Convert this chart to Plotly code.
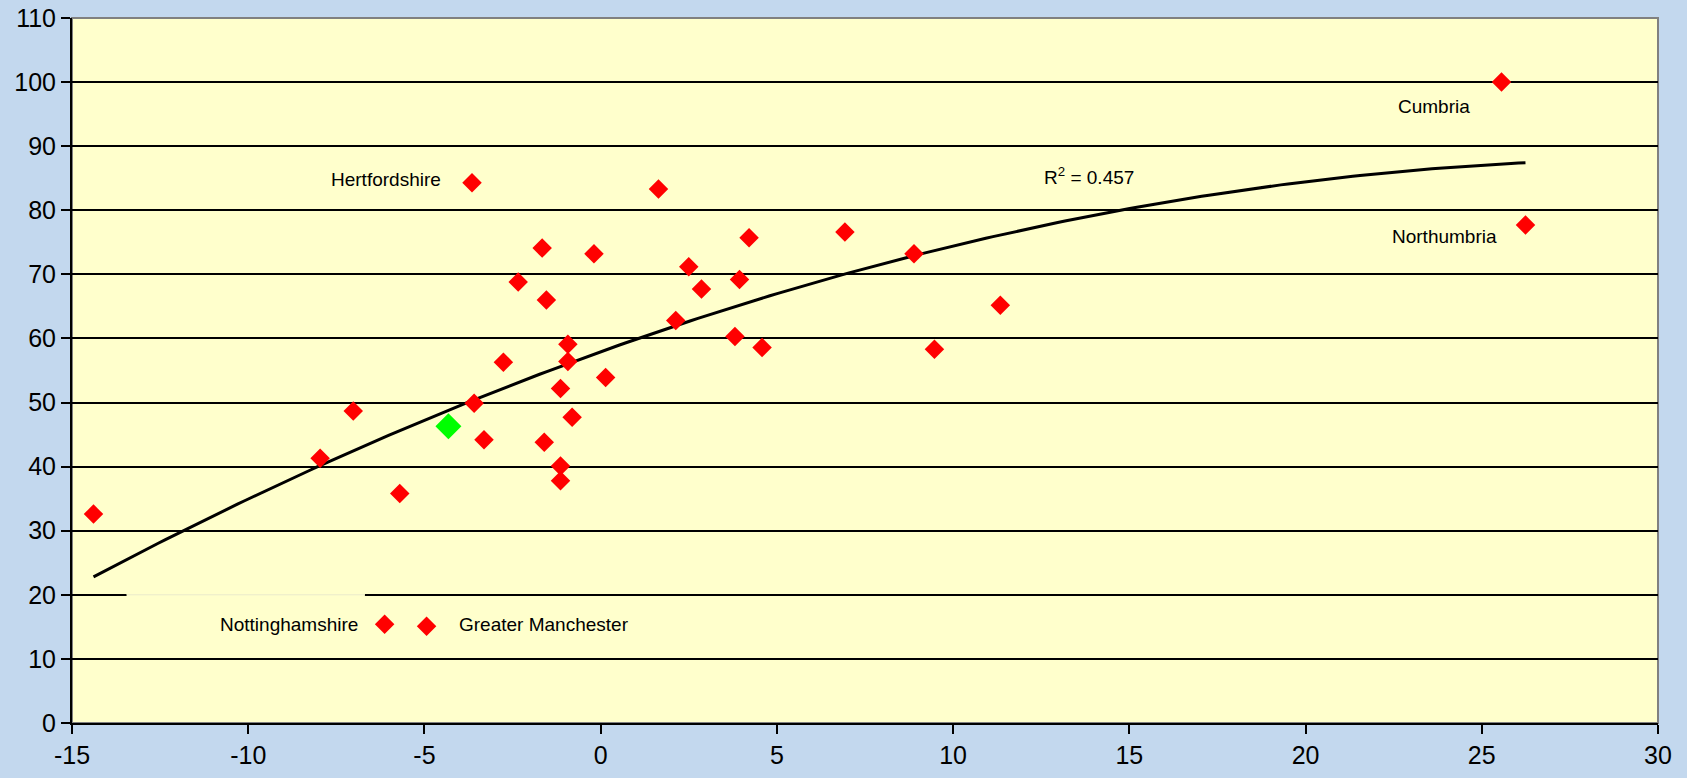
import numpy as np
import plotly.graph_objects as go

# Scatter data
x_vals = [-14.39, -7.96, -7.02, -5.70, -3.65, -3.59, -3.31, -2.76, -2.34, -1.66,
          -1.54, -1.60, -1.14, -1.14, -1.14, -0.93, -0.93, -0.81, -0.19, 0.14,
          1.64, 2.13, 2.50, 2.86, 3.81, 3.94, 4.21, 4.58, 6.93, 8.89,
          9.47, 11.34, 25.56, 26.24, -6.13, -4.94]
y_vals = [32.6, 41.3, 48.7, 35.8, 84.3, 49.9, 44.2, 56.3, 68.8, 74.1,
          66.0, 43.8, 40.1, 37.8, 52.2, 59.1, 56.4, 47.7, 73.2, 53.9,
          83.3, 62.8, 71.2, 67.7, 60.3, 69.2, 75.7, 58.6, 76.6, 73.2,
          58.3, 65.2, 100.0, 77.7, 15.4, 15.1]
green_x = [-4.32]
green_y = [46.3]

label_text = ["Hertfordshire", "Cumbria", "Northumbria", "Nottinghamshire", "Greater Manchester"]
label_x = [-6.1, 23.64, 23.94, -8.85, -1.6]
label_y = [84.8, 96.2, 75.9, 15.4, 15.4]

r2_label = "R<sup>2</sup> = 0.457"
x_ticks = [-15, -10, -5, 0, 5, 10, 15, 20, 25, 30]
x_tick_text = ["-15", "-10", "-5", "0", "5", "10", "15", "20", "25", "30"]
y_ticks = [0, 10, 20, 30, 40, 50, 60, 70, 80, 90, 100, 110]

# Polynomial (order 2) trendline fitted to all points
ax = np.array(x_vals + green_x)
ay = np.array(y_vals + green_y)
coef = np.polyfit(ax, ay, 2)
xt = np.linspace(ax.min(), ax.max(), 200)
yt = np.polyval(coef, xt)

fig = go.Figure()
fig.add_trace(go.Scatter(x=xt, y=yt, mode="lines",
                         line=dict(color="black", width=3), hoverinfo="skip"))
fig.add_trace(go.Scatter(x=x_vals, y=y_vals, mode="markers",
                         marker=dict(symbol="diamond", size=15, color="#FF0000")))
fig.add_trace(go.Scatter(x=green_x, y=green_y, mode="markers",
                         marker=dict(symbol="diamond", size=20, color="#00FF00")))

for t, x, y in zip(label_text, label_x, label_y):
    fig.add_annotation(x=x, y=y, text=t, showarrow=False,
                       font=dict(family="Liberation Sans", size=19, color="black"))
fig.add_annotation(x=13.86, y=85.4, text=r2_label, showarrow=False,
                   font=dict(family="Liberation Sans", size=19, color="black"))

# gap in the 20 gridline (text box background in original)
fig.add_shape(type="rect", x0=-13.45, x1=-6.69, y0=19.6, y1=20.4,
              fillcolor="#FFFFCC", line=dict(width=0), layer="above")
fig.add_shape(type="line", x0=-13.45, x1=-6.69, y0=20, y1=20,
              line=dict(color="#EAEACB", width=1), layer="above")
# grey frame on top/right
fig.add_shape(type="rect", xref="paper", yref="paper", x0=0, x1=1, y0=0, y1=1,
              line=dict(color="#808080", width=2), layer="below")

tf = dict(family="Liberation Sans", size=25, color="black")
fig.update_layout(width=1687, height=778, showlegend=False,
                  margin=dict(l=72, r=29, t=18, b=55),
                  paper_bgcolor="#C3D8EE", plot_bgcolor="#FFFFCC")
fig.update_xaxes(range=[-15, 30], tickvals=x_ticks, ticktext=x_tick_text, showgrid=False,
                 zeroline=False, showline=True, linecolor="black", linewidth=2, ticks="outside",
                 ticklen=9, tickwidth=2, tickcolor="black", tickfont=tf, automargin=False)
fig.update_yaxes(range=[0, 110], tickvals=y_ticks, showgrid=True, gridcolor="black", gridwidth=2,
                 zeroline=False, showline=True, linecolor="black", linewidth=2, ticks="outside",
                 ticklen=9, tickwidth=2, tickcolor="black", tickfont=tf, automargin=False)
fig.write_html("out.html", config={"displayModeBar": False},
               post_script="document.body.style.margin='0px';")
